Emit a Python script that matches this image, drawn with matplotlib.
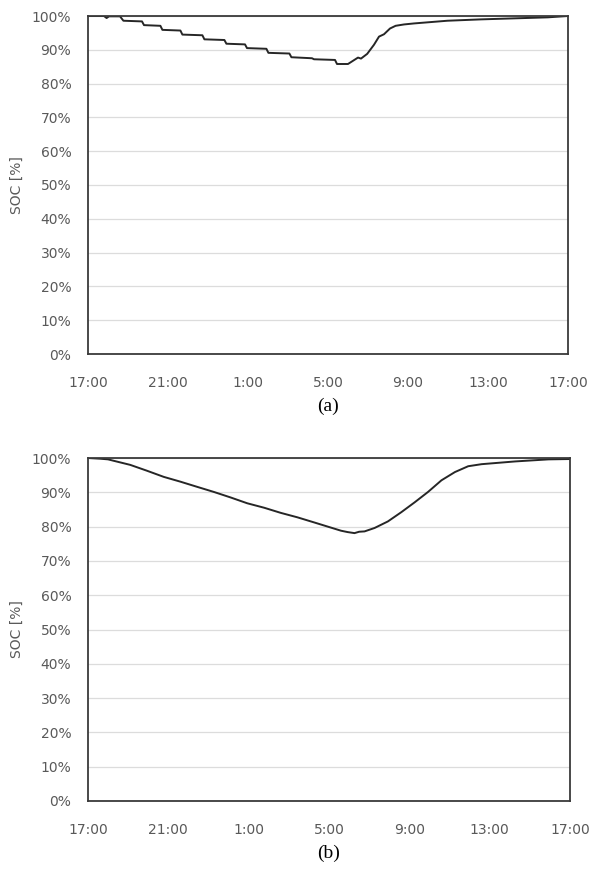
import numpy as np
import matplotlib.pyplot as plt

# hours after 17:00 and SOC [%]
hours_a = [0, 0.8, 0.93, 1.05, 1.6, 1.77, 2.7, 2.8, 3.62, 3.72, 4.62, 4.72,
           5.72, 5.82, 6.82, 6.92, 7.85, 7.95, 8.92, 9.02, 10.07, 10.17,
           11.2, 11.3, 12.35, 12.45, 13.0, 13.5, 13.65, 13.96, 14.3, 14.55,
           14.8, 15.1, 15.38, 15.8, 16.3, 17.97, 19.64, 21.3, 22.98, 24]
soc_a = [100, 100, 99.4, 99.9, 99.9, 98.6, 98.4, 97.3, 97.1, 95.9, 95.7, 94.5,
         94.3, 93.1, 92.9, 91.8, 91.6, 90.5, 90.3, 89.1, 88.9, 87.8,
         87.5, 87.2, 87.0, 85.8, 85.8, 87.7, 87.4, 88.8, 91.5, 93.9,
         94.6, 96.3, 97.1, 97.5, 97.8, 98.6, 99.0, 99.3, 99.6, 100]

hours_b = [0, 0.6, 1.0, 1.27, 2.1, 2.93, 3.77, 4.6, 5.43, 6.27, 7.1, 7.93,
           8.77, 9.6, 10.43, 11.27, 12.1, 12.6, 12.93, 13.27, 13.5, 13.77,
           14.27, 14.93, 15.6, 16.27, 16.93, 17.6, 18.27, 18.93, 19.6, 21.27,
           22.93, 24]
soc_b = [100, 99.8, 99.6, 99.2, 98.0, 96.3, 94.5, 93.1, 91.6, 90.1, 88.5, 86.8,
         85.5, 84.0, 82.7, 81.2, 79.7, 78.8, 78.4, 78.1, 78.5, 78.6,
         79.6, 81.5, 84.2, 87.1, 90.1, 93.5, 95.9, 97.6, 98.2, 99.0,
         99.6, 99.7]

xticks = [0, 4, 8, 12, 16, 20, 24]
xlabels = ['17:00', '21:00', '1:00', '5:00', '9:00', '13:00', '17:00']
yticks = np.arange(0, 101, 10)

W, H = 591, 869
fig = plt.figure(figsize=(W / 100, H / 100), dpi=100)


def panel(box, x, y, caption, cap_y):
    l, t, r, b = box
    ax = fig.add_axes([l / W, 1 - b / H, (r - l) / W, (b - t) / H])
    ax.plot(x, y, color='#262626', lw=1.4)
    ax.set_xlim(0, 24)
    ax.set_ylim(0, 100)
    ax.set_xticks(xticks)
    ax.set_xticklabels(xlabels)
    ax.set_yticks(yticks)
    ax.set_yticklabels([str(v) + '%' for v in yticks])
    ax.grid(axis='y', color='#dcdcdc', lw=0.9)
    ax.set_axisbelow(True)
    ax.tick_params(axis='both', length=0, labelsize=10, labelcolor='#595959')
    ax.tick_params(axis='x', pad=16)
    ax.tick_params(axis='y', pad=12)
    for s in ax.spines.values():
        s.set_color('#3a3a3a')
        s.set_linewidth(1.3)
    fig.text(16.7 / W, 1 - (t + b) / 2 / H, 'SOC [%]', rotation=90,
             ha='center', va='center', fontsize=10, color='#595959')
    fig.text((l + r) / 2 / W, 1 - cap_y / H, caption, ha='center', va='center',
             fontsize=14, family='Liberation Serif', color='black')
    return ax


panel((88, 16, 568, 354), hours_a, soc_a, '(a)', 406)
panel((88, 458, 570, 801), hours_b, soc_b, '(b)', 853)

fig.savefig('out.png', dpi=100)
